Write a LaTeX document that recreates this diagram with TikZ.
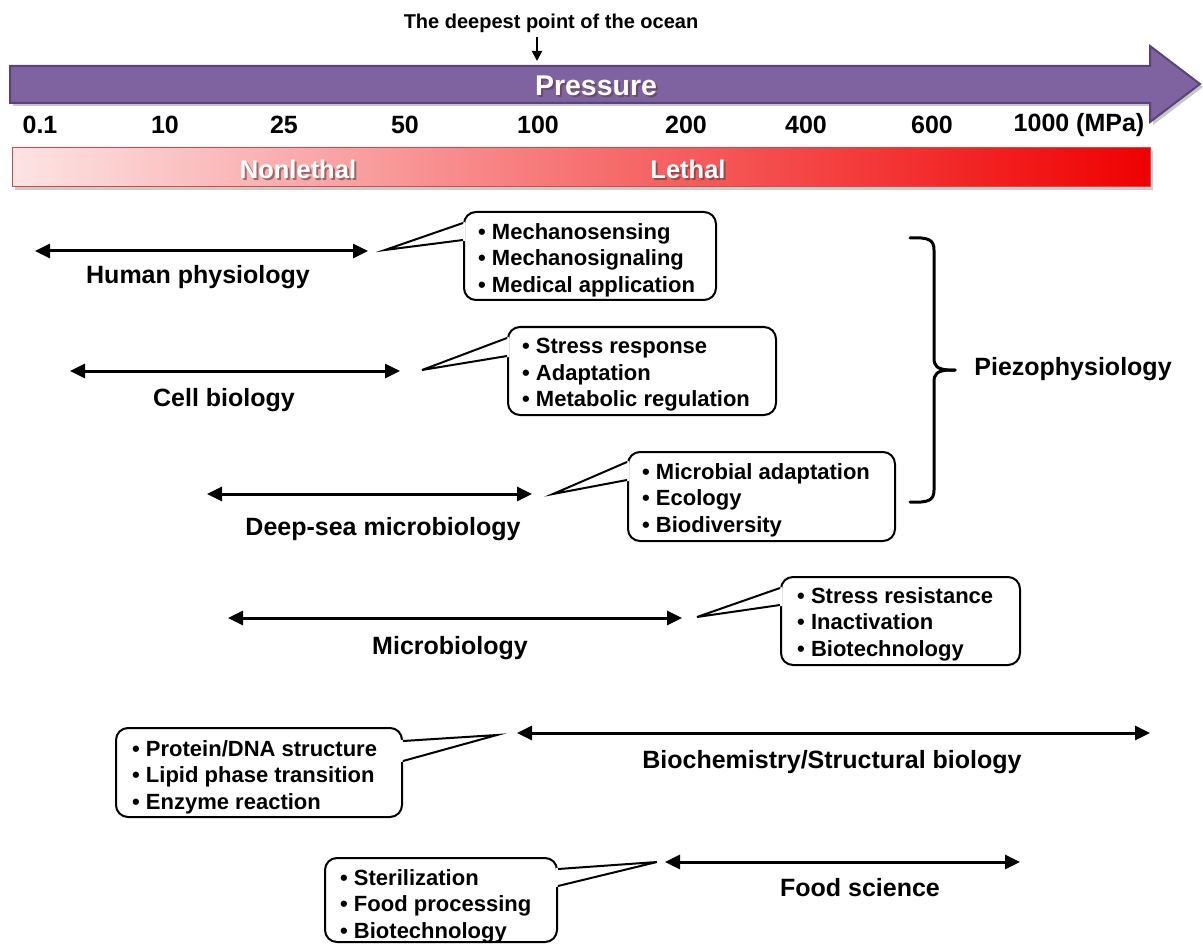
\documentclass[tikz,border=0pt]{standalone}
\usepackage{fontspec}
\setmainfont{Liberation Sans}
\usetikzlibrary{arrows.meta,calc}
\definecolor{purp}{RGB}{126,99,160}
\definecolor{purpd}{RGB}{88,68,120}
\definecolor{pinkL}{RGB}{253,228,228}
\definecolor{redR}{RGB}{240,0,0}
\definecolor{barb}{RGB}{214,72,72}
\definecolor{tshadow}{RGB}{90,60,60}
\begin{document}
\begin{tikzpicture}[x=1pt,y=-1pt,
  every node/.style={font=\bfseries\fontsize{25}{27}\selectfont, inner sep=0pt},
  items/.style={align=left, anchor=west, font=\bfseries\fontsize{22}{26.5}\selectfont},
  dbl/.style={line width=3pt, {Triangle[length=15pt,width=14pt]}-{Triangle[length=15pt,width=14pt]}},
  cbox/.style={draw, line width=2pt, rounded corners=12pt, fill=white},
  cline/.style={line width=2pt, line join=miter},
  wtxt/.style={white, font=\bfseries\fontsize{25.5}{27}\selectfont},
  stxt/.style={tshadow, opacity=0.6, font=\bfseries\fontsize{25.5}{27}\selectfont},
  brace/.style={line width=3pt, line cap=round, line join=round}
]
\useasboundingbox (0,0) rectangle (1203,944);

% ---------- title and pressure arrow ----------
\node[font=\bfseries\fontsize{20}{22}\selectfont] (dp) at (551,23) {The deepest point of the ocean};
\coordinate (da) at (537,37);
\coordinate (db) at (537,61);
\draw[line width=2pt, -{Triangle[length=10pt,width=10pt]}] (da) -- (db);

\fill[black, opacity=0.22] (13,69) -- (1153,69) -- (1153,49) -- (1203,87) -- (1153,125) -- (1153,106) -- (13,106) -- cycle;
\filldraw[fill=purp, draw=purpd, line width=2pt, line join=miter]
  (10,66) -- (1150,66) -- (1150,46) -- (1200,84) -- (1150,122) -- (1150,103) -- (10,103) -- cycle;
\node[stxt, font=\bfseries\fontsize{28.5}{30}\selectfont] (prs) at (598,88) {Pressure};
\node[wtxt, font=\bfseries\fontsize{28.5}{30}\selectfont] (pr) at (596,86) {Pressure};

% ---------- ticks ----------
\node (t1) at (40,125) {0.1};
\node (t2) at (165,125) {10};
\node (t3) at (284,125) {25};
\node (t4) at (405,125) {50};
\node (t5) at (538,125) {100};
\node (t6) at (686,125) {200};
\node (t7) at (806,125) {400};
\node (t8) at (932,125) {600};
\node (t9) at (1079,125) {1000 (MPa)};

% ---------- lethality bar ----------
\fill[black, opacity=0.2] (15,151) rectangle (1153,190);
\shade[left color=pinkL, right color=redR] (12,148) rectangle (1150,187);
\draw[barb, line width=1pt] (12,148) rectangle (1150,187);
\node[stxt] (nls) at (300,171) {Nonlethal};
\node[wtxt] (nl) at (298,169) {Nonlethal};
\node[stxt] (lts) at (690,171) {Lethal};
\node[wtxt] (lt) at (688,169) {Lethal};

% ---------- row 1: human physiology ----------
\coordinate (a1l) at (35,251);
\coordinate (a1r) at (368,251);
\draw[dbl] (a1l) -- (a1r);
\node (l1) at (198,277) {Human physiology};
\node[cbox, minimum width=252pt, minimum height=88pt] (b1) at (590,256) {};
\coordinate (p1) at (385,250);
\fill[white] (p1) -- ($(b1.north west)+(2,11)$) -- ($(b1.north west)+(2,30)$) -- cycle;
\draw[cline] ($(b1.north west)+(0,12)$) -- (p1) -- ($(b1.north west)+(0,29)$);
\node[items] (i1) at (478,260) {• Mechanosensing\\• Mechanosignaling\\• Medical application};

% ---------- row 2: cell biology ----------
\coordinate (a2l) at (70,371);
\coordinate (a2r) at (400,371);
\draw[dbl] (a2l) -- (a2r);
\node (l2) at (224,400) {Cell biology};
\node[cbox, minimum width=268pt, minimum height=88pt] (b2) at (642,371) {};
\coordinate (p2) at (422,370);
\fill[white] (p2) -- ($(b2.north west)+(2,11)$) -- ($(b2.north west)+(2,31)$) -- cycle;
\draw[cline] ($(b2.north west)+(0,12)$) -- (p2) -- ($(b2.north west)+(0,30)$);
\node[items] (i2) at (522,375) {• Stress response\\• Adaptation\\• Metabolic regulation};

% ---------- row 3: deep-sea microbiology ----------
\coordinate (a3l) at (207,494);
\coordinate (a3r) at (532,494);
\draw[dbl] (a3l) -- (a3r);
\node (l3) at (383,529) {Deep-sea microbiology};
\node[cbox, minimum width=267pt, minimum height=89pt] (b3) at (761.5,496.5) {};
\coordinate (p3) at (553,494);
\fill[white] (p3) -- ($(b3.north west)+(2,10)$) -- ($(b3.north west)+(2,30)$) -- cycle;
\draw[cline] ($(b3.north west)+(0,11)$) -- (p3) -- ($(b3.north west)+(0,29)$);
\node[items] (i3) at (642,500) {• Microbial adaptation\\• Ecology\\• Biodiversity};

% ---------- row 4: microbiology ----------
\coordinate (a4l) at (228,618);
\coordinate (a4r) at (682,618);
\draw[dbl] (a4l) -- (a4r);
\node (l4) at (450,648) {Microbiology};
\node[cbox, minimum width=239pt, minimum height=88pt] (b4) at (900.5,621) {};
\coordinate (p4) at (697,617);
\fill[white] (p4) -- ($(b4.north west)+(2,11)$) -- ($(b4.north west)+(2,30)$) -- cycle;
\draw[cline] ($(b4.north west)+(0,12)$) -- (p4) -- ($(b4.north west)+(0,29)$);
\node[items] (i4) at (797,624) {• Stress resistance\\• Inactivation\\• Biotechnology};

% ---------- row 5: biochemistry ----------
\coordinate (a5l) at (517,733);
\coordinate (a5r) at (1150,733);
\draw[dbl] (a5l) -- (a5r);
\node (l5) at (832,762) {Biochemistry/Structural biology};
\node[cbox, minimum width=286pt, minimum height=89pt] (b5) at (259,772.5) {};
\coordinate (p5) at (497,735);
\fill[white] (p5) -- ($(b5.north east)+(-2,13)$) -- ($(b5.north east)+(-2,35)$) -- cycle;
\draw[cline] ($(b5.north east)+(0,14)$) -- (p5) -- ($(b5.north east)+(0,34)$);
\node[items] (i5) at (132,777) {• Protein/DNA structure\\• Lipid phase transition\\• Enzyme reaction};

% ---------- row 6: food science ----------
\coordinate (a6l) at (665,862);
\coordinate (a6r) at (1020,862);
\draw[dbl] (a6l) -- (a6r);
\node (l6) at (860,888) {Food science};
\node[cbox, minimum width=232pt, minimum height=84pt] (b6) at (441,900) {};
\coordinate (p6) at (657,862);
\fill[white] (p6) -- ($(b6.north east)+(-2,11)$) -- ($(b6.north east)+(-2,30)$) -- cycle;
\draw[cline] ($(b6.north east)+(0,12)$) -- (p6) -- ($(b6.north east)+(0,29)$);
\node[items] (i6) at (340,906) {• Sterilization\\• Food processing\\• Biotechnology};

% ---------- brace ----------
\coordinate (bt) at (910,238);
\coordinate (bm) at (955,370);
\coordinate (bb) at (910,502);
\draw[brace] (bt) .. controls (929,237) and (934,240) .. (934,250) -- (934,358)
  .. controls (934,366) and (937,369) .. (948,370) -- (bm);
\draw[brace] (bm) -- (948,370) .. controls (937,371) and (934,374) .. (934,382)
  -- (934,490) .. controls (934,500) and (929,503) .. (bb);
\node (pz) at (1073,369) {Piezophysiology};
\end{tikzpicture}
\end{document}
